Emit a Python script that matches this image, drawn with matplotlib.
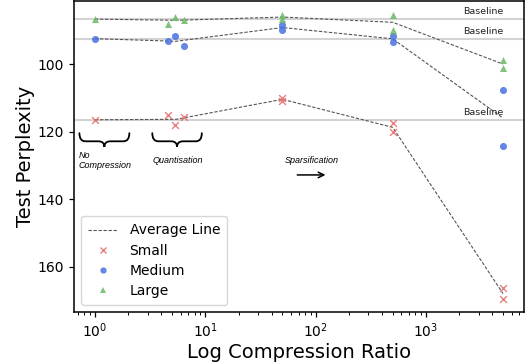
import numpy as np
import matplotlib
matplotlib.use("Agg")
import matplotlib.pyplot as plt
from matplotlib.path import Path
from matplotlib.patches import PathPatch
from matplotlib.lines import Line2D

# ---- data ----
nc_ratio = [1.0]
quant_ratios = [4.57, 5.33, 6.4]
sparse_ratios = [50, 50, 500, 500, 5000, 5000]

small_nc = [116.5]
small_quant = [115.2, 118.1, 115.8]
small_sparse = [110.0, 110.9, 117.4, 120.1, 166.3, 169.6]

medium_nc = [92.5]
medium_quant = [93.3, 91.7, 94.8]
medium_sparse = [88.5, 89.9, 91.7, 93.4, 107.7, 124.3]

large_nc = [86.7]
large_quant = [88.2, 86.0, 87.0]
large_sparse = [85.5, 86.7, 85.4, 89.9, 98.9, 101.1]

model_names = ["Small", "Medium", "Large"]
colors = {"Small": "#e46a6a", "Medium": "#4a72e0", "Large": "#6cb866"}
markers = {"Small": "x", "Medium": "o", "Large": "^"}

series = {
    "Small": (small_nc, small_quant, small_sparse),
    "Medium": (medium_nc, medium_quant, medium_sparse),
    "Large": (large_nc, large_quant, large_sparse),
}

fig = plt.figure(figsize=(5.3, 3.64), dpi=100)
ax = fig.add_axes([74/530, 52/364, 450/530, 311.5/364])

all_x = np.array(nc_ratio + quant_ratios + sparse_ratios, dtype=float)
sp = np.array(sparse_ratios, dtype=float)
uniq_sp = np.unique(sp)

for name in model_names:
    nc, qu, sv = series[name]
    baseline = nc[0]
    ax.axhline(baseline, color="#d3d3d3", lw=1.5, zorder=1)
    ax.annotate("Baseline", xy=(5000, baseline), xytext=(0, 2), textcoords="offset points",
                ha="right", va="bottom", fontsize=6.8, color="#222222", zorder=5)
    # average line
    ax_x = [nc_ratio[0], np.mean(quant_ratios)] + list(uniq_sp)
    sv_arr = np.array(sv)
    ax_y = [nc[0], np.mean(qu)] + [sv_arr[sp == u].mean() for u in uniq_sp]
    ax.plot(ax_x, ax_y, color="#555555", lw=0.8, ls=(0, (3, 1.5)), zorder=2)
    ys = np.array(nc + qu + sv, dtype=float)
    if markers[name] == "x":
        ax.scatter(all_x, ys, marker="x", color=colors[name], s=24, lw=1.0, alpha=0.85, zorder=3)
    else:
        ax.scatter(all_x, ys, marker=markers[name], color=colors[name], s=26, lw=0, alpha=0.85, zorder=3)

ax.set_xscale("log")
ax.set_xlim(0.645, 7750)
ax.set_ylim(173.4, 81.2)
ax.set_yticks([100, 120, 140, 160])
ax.tick_params(axis="both", which="major", labelsize=10, length=3.5, width=0.9)
ax.tick_params(axis="both", which="minor", length=2, width=0.7)
for s in ax.spines.values():
    s.set_linewidth(1.1)
ax.set_xlabel("Log Compression Ratio", fontsize=14, labelpad=2)
ax.set_ylabel("Test Perplexity", fontsize=14, labelpad=2)

# braces
def brace(x0, x1, ytop, ymid, ytip):
    xm = 0.5 * (x0 + x1)
    d = 0.12 * (x1 - x0)
    verts = [(x0, ytop), (x0, ymid), (x0 + d, ymid),
             (xm - d, ymid), (xm, ymid), (xm, ytip),
             (xm, ymid), (xm + d, ymid),
             (x1 - d, ymid), (x1, ymid), (x1, ytop)]
    codes = [Path.MOVETO, Path.CURVE3, Path.CURVE3,
             Path.LINETO, Path.CURVE3, Path.CURVE3,
             Path.CURVE3, Path.CURVE3,
             Path.LINETO, Path.CURVE3, Path.CURVE3]
    p = PathPatch(Path(verts, codes), transform=ax.transAxes, fill=False,
                  lw=1.3, color="black", clip_on=False, capstyle="round")
    ax.add_patch(p)

brace(0.012, 0.123, 0.574, 0.548, 0.530)
brace(0.174, 0.284, 0.574, 0.548, 0.530)

tfont = dict(family="Liberation Sans", style="italic", fontsize=6.5)
ax.text(0.011, 0.517, "No\nCompression", transform=ax.transAxes, ha="left", va="top",
        linespacing=1.15, **tfont)
ax.text(0.175, 0.485, "Quantisation", transform=ax.transAxes, ha="left", va="center", **tfont)
ax.text(0.469, 0.485, "Sparsification", transform=ax.transAxes, ha="left", va="center", **tfont)
ax.annotate("", xy=(0.565, 0.440), xytext=(0.49, 0.440), xycoords="axes fraction",
            arrowprops=dict(arrowstyle="->", lw=1.1, color="black"))

handles = [Line2D([], [], color="#555555", lw=0.8, ls=(0, (3, 1.5)), label="Average Line")]
for name in model_names:
    if markers[name] == "x":
        handles.append(Line2D([], [], ls="", marker="x", color=colors[name], ms=4, mew=1.0,
                              alpha=0.85, label=name))
    else:
        handles.append(Line2D([], [], ls="", marker=markers[name], color=colors[name], ms=4.5,
                              mew=0, alpha=0.85, label=name))
ax.legend(handles=handles, loc="lower left", fontsize=10, handlelength=2.2,
          labelspacing=0.45, borderpad=0.5, framealpha=0.8)

fig.savefig("out.png", dpi=100)
